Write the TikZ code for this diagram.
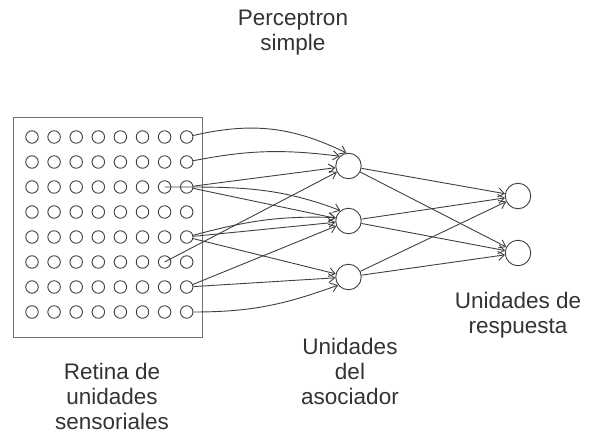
\documentclass[tikz,border=0pt]{standalone}
\usepackage{fontspec}
\setmainfont{Liberation Sans}
\usetikzlibrary{arrows.meta}
\definecolor{linegray}{HTML}{404040}
\definecolor{boxgray}{HTML}{707070}
\definecolor{textgray}{HTML}{333333}
\tikzset{
	sensor/.style={circle,draw=linegray,line width=0.9pt,minimum size=12.5pt,inner sep=0pt},
	unit/.style={circle,draw=linegray,line width=0.9pt,minimum size=25.5pt,inner sep=0pt},
	link/.style={draw=linegray,line width=0.9pt,-{Straight Barb[length=6pt,width=9pt]}},
	caption/.style={anchor=north,inner sep=0pt,align=center,text=textgray,font=\fontsize{22.5}{25}\selectfont},
}
\begin{document}
\begin{tikzpicture}[x=1pt,y=-1pt]
		\useasboundingbox (0,0) rectangle (590,439);
		\draw [boxgray,line width=0.9pt] (13,117) rectangle (202,337);
		% retina
		\foreach \r in {1,...,8}
			\foreach \c in {1,...,8}
				\node [sensor] (s\r\c) at ({32+22.1*(\c-1)},{137+25*(\r-1)}) {};
		% associator and response units
		\node [unit] (a1) at (348.5,166) {};
		\node [unit] (a2) at (348.5,221) {};
		\node [unit] (a3) at (348.5,277) {};
		\node [unit] (r1) at (518,196) {};
		\node [unit] (r2) at (518,253) {};
		% retina to associator
		\draw [link] (s18) to[out=13,in=154] (a1.99);
		\draw [link] (s28) to[out=11,in=173] (a1.132);
		\draw [link] (s37.center) to[out=0,in=159] (a2.128);
		\draw [link] (s38) -- (a1);
		\draw [link] (s38) -- (a2);
		\draw [link] (s58) to[out=15,in=178] (a2.165);
		\draw [link] (s58) -- (a2);
		\draw [link] (s58) -- (a3);
		\draw [link] (s67.center) -- (a1);
		\draw [link] (s78) -- (a2);
		\draw [link] (s78) -- (a3);
		\draw [link] (s88) to[out=0,in=200] (a3.218);
		% associator to response
		\foreach \a in {a1,a2,a3}
			\foreach \b in {r1,r2}
				\draw [link] (\a) -- (\b);
		% captions
		\node [caption] (title) at (293,10) {Perceptron\\simple};
		\node [caption] (retina) at (112,363) {Retina de\\unidades\\sensoriales};
		\node [caption] (assoc) at (350,338) {Unidades\\del\\asociador};
		\node [caption] (resp) at (518,292) {Unidades de\\respuesta};
	\end{tikzpicture}
\end{document}
